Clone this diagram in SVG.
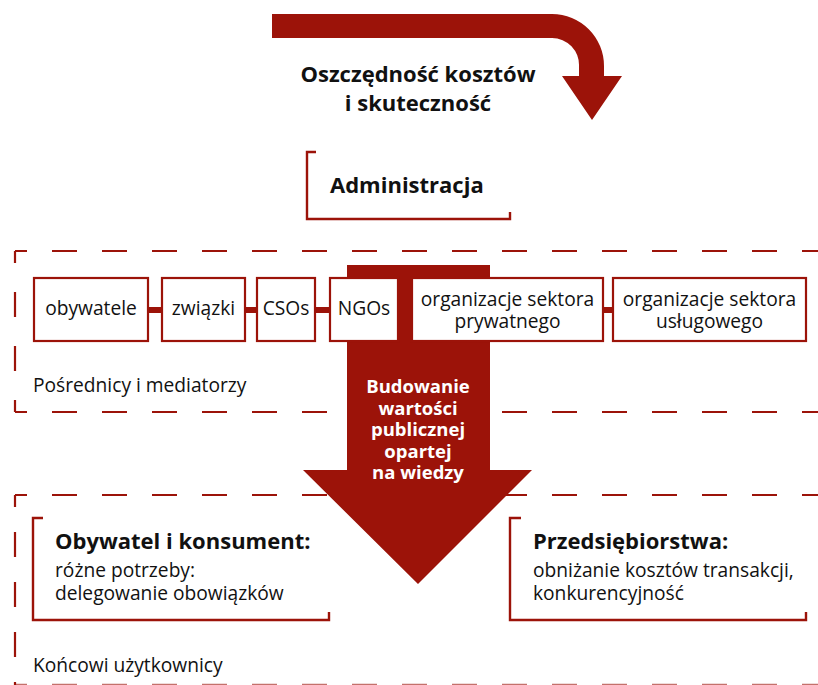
<svg xmlns="http://www.w3.org/2000/svg" width="818" height="685" viewBox="0 0 818 685">
<style>
  .red{fill:#9c1309}
  .dash{fill:none;stroke:#9c1309;stroke-width:2.2;stroke-dasharray:25 25;stroke-dashoffset:13}
  .box{fill:#fff;stroke:#9c1309;stroke-width:2.2}
  .br{fill:none;stroke:#9c1309;stroke-width:2.4}
  .conn{stroke:#9c1309;stroke-width:6}
  text{font-family:"Open Sans","Liberation Sans",sans-serif;fill:#111}
  .t{font-size:19.2px}
  .b{font-size:22px;font-weight:bold}
  .w{font-size:18.5px;font-weight:bold;fill:#fff}
  .m{text-anchor:middle}
</style>
<rect width="818" height="685" fill="#fff"/>

<g id="top-arrow">
  <path class="red" d="M272,14 H552 A52,52 0 0 1 604,66 V76 H622 L592,120 L562,76 H579 V66 A27,27 0 0 0 552,38 H272 Z"/>
  <text class="b m" x="418" y="82">Oszczędność kosztów</text>
  <text class="b m" x="418" y="111">i skuteczność</text>
</g>

<g id="administracja">
  <path class="br" d="M316,152 H307 V219 H510 V212"/>
  <text class="b" x="330" y="193">Administracja</text>
</g>

<g id="posrednicy-frame">
  <path class="dash" d="M15,251 H830"/>
  <path class="dash" d="M15,412 H830"/>
  <path class="dash" style="stroke-dasharray:25 29" d="M15,251 V412"/>
  <text class="t" x="33" y="392">Pośrednicy i mediatorzy</text>
</g>

<g id="koncowi-frame">
  <path class="dash" d="M15,495 H830"/>
  <path class="dash" d="M15,495 V700"/>
  <path class="dash" style="stroke-width:1.4;opacity:0.6" d="M15,684.5 H830"/>
  <text class="t" x="33" y="672">Końcowi użytkownicy</text>
</g>

<g id="main-arrow">
  <path class="red" d="M347,265 H490 V470 H532 L418,584 L303,470 H347 Z"/>
  <text class="w m" x="418" y="393">Budowanie</text>
  <text class="w m" x="418" y="414.5">wartości</text>
  <text class="w m" x="418" y="436">publicznej</text>
  <text class="w m" x="418" y="457.5">opartej</text>
  <text class="w m" x="418" y="479">na wiedzy</text>
</g>

<g id="connectors">
  <line class="conn" x1="148" y1="310" x2="162" y2="310"/>
  <line class="conn" x1="245" y1="310" x2="257" y2="310"/>
  <line class="conn" x1="315" y1="310" x2="330" y2="310"/>
  <line class="conn" x1="603" y1="310" x2="613" y2="310"/>
</g>

<g id="obywatele">
  <rect class="box" x="34" y="278" width="114" height="63"/>
  <text class="t m" x="91" y="315">obywatele</text>
</g>
<g id="zwiazki">
  <rect class="box" x="162" y="278" width="83" height="63"/>
  <text class="t m" x="203.5" y="315">związki</text>
</g>
<g id="csos">
  <rect class="box" x="257" y="278" width="58" height="63"/>
  <text class="t m" x="286" y="315">CSOs</text>
</g>
<g id="ngos">
  <rect class="box" x="330" y="278" width="68" height="63"/>
  <text class="t m" x="364" y="315">NGOs</text>
</g>
<g id="sektor-prywatny">
  <rect class="box" x="412" y="278" width="191" height="63"/>
  <text class="t m" x="507.5" y="306">organizacje sektora</text>
  <text class="t m" x="507.5" y="328">prywatnego</text>
</g>
<g id="sektor-uslugowy">
  <rect class="box" x="613" y="278" width="193" height="63"/>
  <text class="t m" x="709.5" y="306">organizacje sektora</text>
  <text class="t m" x="709.5" y="328">usługowego</text>
</g>

<g id="obywatel-konsument">
  <path class="br" d="M43,518 H33 V620 H329 V612"/>
  <text class="b" x="55" y="549">Obywatel i konsument:</text>
  <text class="t" x="55" y="577">różne potrzeby:</text>
  <text class="t" x="55" y="600">delegowanie obowiązków</text>
</g>

<g id="przedsiebiorstwa">
  <path class="br" d="M521,518 H510 V620 H806 V612"/>
  <text class="b" x="533" y="549">Przedsiębiorstwa:</text>
  <text class="t" x="533" y="577">obniżanie kosztów transakcji,</text>
  <text class="t" x="533" y="600">konkurencyjność</text>
</g>
</svg>
